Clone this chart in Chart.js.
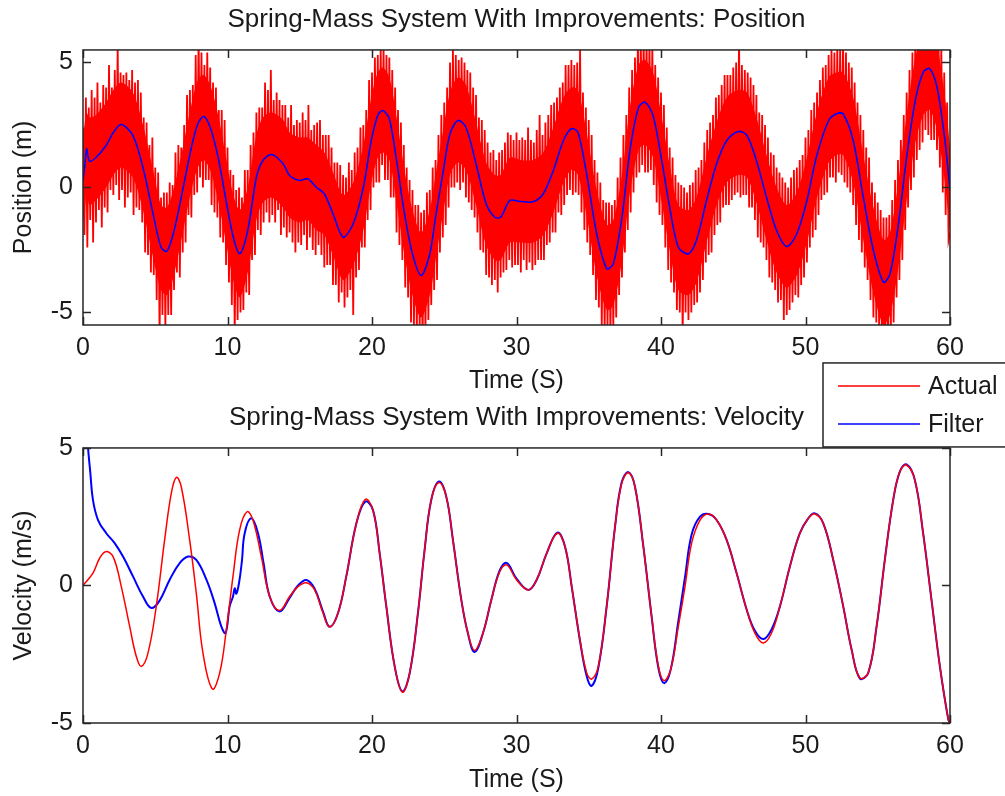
<!DOCTYPE html>
<html>
<head>
<meta charset="utf-8">
<script src="https://cdn.jsdelivr.net/npm/chart.js@4.4.1/dist/chart.umd.min.js"></script>
<style>
  html, body { margin: 0; padding: 0; background: #fff; }
  #wrap { position: relative; width: 1005px; height: 796px; overflow: hidden; }
  #pos-chart { position: absolute; left: 0; top: 0; }
  #vel-chart { position: absolute; left: 0; top: 350px; }
</style>
</head>
<body>
<div id="wrap">
  <canvas id="pos-chart" width="1005" height="398"></canvas>
  <canvas id="vel-chart" width="1005" height="446"></canvas>
</div>
<script>
const timeTicks = [0, 10, 20, 30, 40, 50, 60];
const posTicks = [-5, 0, 5];
const velTicks = [-5, 0, 5];

// position plot: filtered estimate and the solid core of the noisy measurement
const posTime = [
  0, 0.15, 0.25, 0.45, 0.9, 1.6, 2.1, 2.65, 3.45, 4.15,
  4.85, 5.4, 5.8, 6.25, 6.8, 7.5, 7.95, 8.35, 8.8, 9.35,
  9.9, 10.4, 10.85, 11.4, 12.0, 12.45, 13.05, 13.85, 14.3, 15.0,
  15.55, 16.15, 16.7, 17.3, 18.0, 18.7, 19.4, 19.95, 20.4, 20.75,
  21.2, 21.7, 22.25, 22.8, 23.4, 24.0, 24.4, 24.9, 25.4, 25.95,
  26.5, 27.2, 27.9, 28.5, 28.9, 29.55, 30.25, 31.15, 31.85, 32.55,
  33.25, 33.8, 34.25, 34.85, 35.55, 36.25, 36.7, 37.3, 37.85, 38.45,
  38.9, 39.45, 40.05, 40.6, 41.2, 41.9, 42.45, 43.15, 43.85, 44.55,
  45.35, 45.95, 46.6, 47.3, 48.0, 48.7, 49.4, 50.1, 50.75, 51.6,
  52.15, 52.6, 53.3, 54.0, 54.7, 55.4, 55.85, 56.4, 57.0, 57.6,
  58.15, 58.6, 59.1, 59.65, 60
];
const posFilter = [
  0.3, 1.0, 1.55, 1.05, 1.2, 1.68, 2.2, 2.52, 2.08, 0.8,
  -1.05, -2.39, -2.55, -1.85, -0.39, 1.6, 2.55, 2.84, 2.41, 1.21,
  -0.52, -1.99, -2.65, -1.72, 0.41, 1.08, 1.32, 0.95, 0.48, 0.28,
  0.35, 0.01, -0.25, -1.05, -1.99, -1.45, 0.0, 1.88, 2.88, 3.08,
  2.75, 1.08, -1.05, -2.65, -3.52, -2.65, -1.19, 0.55, 2.15, 2.68,
  2.41, 0.95, -0.65, -1.19, -1.19, -0.52, -0.56, -0.57, -0.25, 0.68,
  1.88, 2.35, 2.21, 0.55, -1.85, -3.25, -3.05, -1.19, 1.48, 3.21,
  3.41, 2.88, 1.08, -0.79, -2.39, -2.65, -2.12, -0.52, 0.95, 1.88,
  2.24, 2.08, 1.08, -0.39, -1.72, -2.36, -1.85, -0.52, 1.21, 2.68,
  2.95, 2.95, 1.88, -0.39, -2.52, -3.79, -3.45, -1.59, 1.21, 3.48,
  4.61, 4.75, 4.01, 1.88, -0.12
];
const posCoreHigh = [
  2.0, 2.7, 3.0, 2.8, 2.9, 3.4, 3.9, 4.2, 3.8, 2.5,
  0.7, -0.7, -0.8, -0.1, 1.3, 3.3, 4.3, 4.5, 4.1, 2.9,
  1.2, -0.3, -0.9, 0.0, 2.1, 2.8, 3.0, 2.7, 2.2, 2.0,
  2.0, 1.7, 1.4, 0.6, -0.3, 0.2, 1.7, 3.6, 4.6, 4.8,
  4.4, 2.8, 0.7, -0.9, -1.8, -0.9, 0.5, 2.2, 3.8, 4.4,
  4.1, 2.6, 1.0, 0.5, 0.5, 1.2, 1.1, 1.1, 1.4, 2.4,
  3.6, 4.0, 3.9, 2.2, -0.1, -1.5, -1.3, 0.5, 3.2, 4.9,
  5.1, 4.6, 2.8, 0.9, -0.7, -0.9, -0.4, 1.2, 2.6, 3.6,
  3.9, 3.8, 2.8, 1.3, 0.0, -0.7, -0.2, 1.2, 2.9, 4.4,
  4.6, 4.6, 3.6, 1.3, -0.8, -2.1, -1.8, 0.1, 2.9, 5.2,
  6.3, 6.4, 5.7, 3.6, 1.6
];
const posCoreLow = [
  -1.4, -0.7, -0.2, -0.7, -0.5, 0.0, 0.5, 0.8, 0.4, -0.9,
  -2.8, -4.1, -4.3, -3.6, -2.1, -0.1, 0.8, 1.1, 0.7, -0.5,
  -2.2, -3.7, -4.4, -3.4, -1.3, -0.6, -0.4, -0.8, -1.2, -1.4,
  -1.3, -1.7, -1.9, -2.7, -3.7, -3.1, -1.7, 0.2, 1.2, 1.4,
  1.1, -0.6, -2.7, -4.3, -5.2, -4.3, -2.9, -1.1, 0.5, 1.0,
  0.7, -0.7, -2.3, -2.9, -2.9, -2.2, -2.2, -2.2, -1.9, -1.0,
  0.2, 0.7, 0.5, -1.1, -3.5, -4.9, -4.7, -2.9, -0.2, 1.5,
  1.7, 1.2, -0.6, -2.5, -4.1, -4.3, -3.8, -2.2, -0.7, 0.2,
  0.5, 0.4, -0.6, -2.1, -3.4, -4.0, -3.5, -2.2, -0.5, 1.0,
  1.3, 1.3, 0.2, -2.1, -4.2, -5.5, -5.1, -3.3, -0.5, 1.8,
  2.9, 3.1, 2.3, 0.2, -1.8
];

// noisy measured position, one value every 0.1 s (one row per second)
const posActualStep = 0.1;
const posActual = [
  2.4, -1.9, 3.6, -2.4, 3.2, -1.3, 3.9, -2.2, 3.6, -1.4,
  4.2, -0.9, 3.4, -1.6, 4.1, -0.8, 4.0, -1.0, 4.9, -0.1,
  4.0, -0.3, 4.7, 0.1, 5.7, -0.5, 4.6, -0.1, 4.5, -0.8,
  4.6, -0.4, 4.3, -0.2, 4.7, -1.1, 4.2, -0.8, 4.3, -0.9,
  3.8, -1.4, 2.8, -2.6, 2.6, -2.7, 1.7, -3.4, 2.0, -3.5,
  0.8, -4.5, 0.6, -5.9, -0.4, -5.1, -0.2, -5.6, -0.2, -5.1,
  0.2, -5.1, 0.1, -4.1, 1.4, -3.4, 1.7, -3.6, 1.6, -2.6,
  2.5, -2.2, 3.7, -1.1, 3.9, -1.2, 4.1, -0.3, 5.3, -0.2,
  6.1, 0.4, 5.4, 0.0, 4.9, 0.3, 5.4, 0.3, 4.8, -0.7,
  4.2, -1.0, 4.0, -1.2, 3.1, -2.0, 3.1, -2.2, 2.7, -3.1,
  1.6, -3.8, 0.7, -4.7, 0.5, -5.9, -0.1, -5.3, 0.0, -5.0,
  -0.4, -4.9, 0.7, -4.2, 0.7, -4.3, 1.7, -2.9, 2.2, -2.7,
  3.0, -1.7, 3.2, -1.9, 3.2, -1.4, 4.2, -1.0, 3.9, -1.4,
  4.7, -1.1, 3.5, -1.4, 3.8, -0.9, 3.5, -1.9, 3.3, -1.6,
  3.3, -2.0, 2.8, -1.8, 3.3, -2.2, 2.5, -2.6, 2.7, -2.2,
  2.6, -2.3, 3.0, -1.9, 2.7, -2.5, 3.3, -2.0, 2.3, -2.5,
  2.5, -2.7, 2.6, -2.3, 2.7, -2.7, 2.1, -3.2, 2.1, -3.1,
  2.1, -3.1, 1.6, -3.9, 1.0, -3.9, 1.0, -4.6, 0.9, -4.2,
  0.5, -4.8, 0.4, -4.4, 1.0, -4.1, 0.7, -5.1, 1.4, -3.6,
  1.6, -3.3, 2.4, -2.4, 2.5, -2.4, 3.1, -1.3, 4.3, -0.9,
  4.6, 0.0, 5.2, 0.2, 5.3, 0.2, 5.6, 0.9, 5.6, 0.3,
  5.3, 0.3, 5.2, -0.4, 4.7, -0.4, 4.0, -1.8, 3.1, -2.3,
  2.6, -2.9, 1.7, -4.0, 0.8, -4.4, 0.3, -5.4, -0.1, -5.6,
  -0.7, -5.8, -0.7, -5.7, -1.0, -6.2, -0.9, -5.8, -0.2, -5.3,
  -0.1, -4.7, 0.8, -4.1, 1.1, -3.7, 2.1, -2.6, 2.9, -2.0,
  3.4, -1.5, 4.0, -0.8, 5.0, 0.0, 5.5, 0.0, 5.3, 0.2,
  5.1, -0.1, 5.2, 0.2, 5.0, -0.4, 4.7, -0.6, 4.6, -0.9,
  4.0, -1.2, 3.7, -1.8, 2.8, -2.5, 2.7, -2.6, 2.3, -3.5,
  1.8, -3.6, 1.4, -3.9, 1.5, -3.7, 1.1, -4.2, 1.4, -3.6,
  1.5, -3.4, 1.8, -3.3, 2.2, -2.9, 2.1, -3.2, 1.9, -3.1,
  2.2, -3.1, 1.9, -3.4, 2.0, -2.9, 1.9, -3.3, 2.4, -3.0,
  1.9, -3.3, 1.8, -3.1, 2.3, -2.9, 2.9, -2.9, 2.1, -2.9,
  2.6, -2.3, 2.9, -2.2, 3.3, -1.8, 3.4, -1.8, 3.6, -1.0,
  4.0, -1.1, 4.2, -0.7, 4.9, -0.3, 4.9, -0.1, 5.1, -0.3,
  4.9, -0.2, 5.0, -0.3, 5.6, -1.0, 3.8, -1.7, 3.2, -2.2,
  2.7, -2.7, 2.1, -3.5, 1.1, -4.5, 0.6, -4.8, 0.2, -5.6,
  -0.5, -5.8, -0.6, -5.6, -0.6, -6.0, -0.7, -5.6, -0.5, -5.2,
  0.4, -4.3, 1.2, -3.6, 2.1, -2.6, 2.9, -1.7, 4.0, -1.0,
  4.7, -0.2, 5.2, 0.4, 5.9, 0.6, 6.0, 0.9, 6.0, 0.6,
  5.9, 0.6, 5.8, 0.7, 5.7, 0.1, 4.9, -0.6, 4.4, -1.1,
  3.8, -1.5, 3.3, -2.4, 2.4, -3.3, 1.6, -3.8, 1.2, -4.2,
  0.5, -4.9, 0.2, -5.0, 0.1, -6.0, 0.0, -5.0, -0.2, -5.3,
  0.1, -5.0, 0.2, -4.7, 0.7, -4.6, 0.8, -4.2, 1.1, -3.7,
  1.8, -3.0, 2.3, -2.7, 2.6, -2.6, 2.9, -1.9, 3.6, -1.5,
  3.7, -1.4, 4.1, -0.8, 4.5, -0.7, 4.5, -0.7, 4.5, -0.5,
  4.8, -0.3, 5.0, -0.2, 6.0, -0.4, 4.9, -0.3, 4.7, -0.3,
  4.6, -0.8, 4.4, -0.8, 4.1, -1.3, 3.7, -2.0, 3.0, -2.2,
  2.9, -2.4, 2.5, -2.9, 2.0, -3.6, 1.4, -3.8, 1.3, -4.1,
  0.8, -4.6, 0.6, -4.5, 0.4, -5.3, 0.2, -5.1, 0.0, -4.9,
  0.4, -4.6, 0.7, -4.3, 0.8, -4.4, 1.1, -3.9, 1.3, -3.6,
  2.0, -3.0, 2.3, -2.4, 3.1, -2.0, 3.4, -1.7, 3.8, -1.1,
  4.3, -0.5, 4.8, -0.3, 4.9, -0.2, 5.3, 0.4, 5.5, 0.4,
  5.4, 0.2, 5.6, 0.6, 5.7, 0.5, 5.8, 0.2, 5.4, 0.0,
  5.0, -0.2, 4.8, -0.7, 4.2, -1.5, 3.4, -2.1, 2.9, -2.6,
  2.3, -3.2, 1.6, -3.7, 1.2, -4.5, 0.2, -5.2, -0.2, -5.4,
  -0.6, -5.9, -0.9, -6.1, -1.2, -6.5, -1.2, -6.2, -1.1, -6.0,
  -0.5, -5.4, 0.3, -4.4, 1.1, -3.7, 1.9, -2.9, 2.9, -1.7,
  3.8, -0.8, 4.7, -0.1, 5.4, 0.4, 6.0, 1.1, 6.4, 1.5,
  6.9, 1.8, 7.2, 2.3, 7.4, 2.1, 7.3, 1.9, 7.1, 1.9,
  6.8, 1.5, 6.4, 0.8, 5.6, -0.2, 4.6, -1.1, 3.4, -2.1,
  -1.8
];

// velocity plot
const velActualTime = [
  0, 0.69, 1.15, 1.57, 2.08, 2.65, 3.23, 3.69, 4.04, 4.5,
  5.07, 5.65, 6.11, 6.46, 6.8, 7.38, 7.84, 8.3, 8.95, 9.46,
  9.92, 10.38, 10.84, 11.35, 11.76, 12.34, 12.92, 13.6, 14.3, 14.88,
  15.46, 16.03, 16.61, 17.07, 17.65, 18.22, 18.92, 19.54, 20.07, 20.53,
  20.99, 21.57, 22.1, 22.61, 23.18, 23.64, 24.1, 24.64, 25.14, 25.6,
  26.18, 26.64, 27.1, 27.68, 28.26, 28.84, 29.32, 30.0, 30.82, 31.4,
  32.09, 32.83, 33.36, 33.82, 34.39, 34.86, 35.2, 35.66, 36.24, 36.82,
  37.28, 37.74, 38.2, 38.78, 39.35, 39.82, 40.21, 40.67, 41.2, 41.66,
  42.12, 42.7, 43.28, 43.85, 44.54, 45.23, 45.93, 46.5, 47.08, 47.65,
  48.23, 48.92, 49.61, 50.19, 50.65, 51.23, 51.92, 52.61, 53.19, 53.76,
  54.34, 54.92, 55.49, 56.07, 56.53, 56.99, 57.57, 58.14, 58.72, 59.3,
  59.88, 60
];
const velActual = [
  0, 0.45, 0.99, 1.23, 1.05, -0.04, -1.49, -2.58, -2.94, -2.45,
  -0.76, 1.66, 3.35, 3.93, 3.59, 1.66, -0.28, -2.45, -3.76, -3.18,
  -1.61, 0.33, 2.02, 2.68, 2.38, 1.05, -0.4, -0.91, -0.4, -0.04,
  0.1, -0.16, -1.0, -1.51, -1.0, 0.33, 2.26, 3.13, 2.74, 1.17,
  -0.76, -2.94, -3.88, -3.18, -1.0, 1.29, 3.11, 3.74, 3.23, 1.66,
  -0.52, -1.73, -2.36, -1.73, -0.52, 0.5, 0.75, 0.21, -0.16, 0.21,
  1.17, 1.9, 1.41, -0.04, -1.97, -3.18, -3.4, -2.94, -0.76, 2.14,
  3.71, 4.1, 3.59, 1.41, -1.12, -2.94, -3.46, -3.06, -1.49, -0.04,
  1.54, 2.38, 2.6, 2.38, 1.66, 0.45, -0.88, -1.73, -2.09, -1.73,
  -0.76, 0.69, 1.9, 2.44, 2.6, 2.26, 0.93, -0.76, -2.33, -3.36,
  -3.18, -1.49, 0.93, 3.11, 4.14, 4.38, 3.83, 1.9, -0.52, -2.94,
  -4.87, -5
];
const velFilterTime = [
  0.25, 0.35, 0.5, 0.69, 1.04, 1.61, 2.19, 2.77, 3.46, 4.15,
  4.73, 5.3, 6.0, 6.69, 7.27, 7.84, 8.54, 9.11, 9.57, 9.87,
  10.15, 10.38, 10.5, 10.61, 10.8, 11.0, 11.19, 11.65, 12.11, 12.5,
  12.92, 13.6, 14.3, 14.88, 15.46, 16.03, 16.61, 17.07, 17.65, 18.22,
  18.92, 19.54, 20.07, 20.53, 20.99, 21.57, 22.1, 22.61, 23.18, 23.64,
  24.1, 24.64, 25.14, 25.6, 26.18, 26.64, 27.1, 27.68, 28.26, 28.84,
  29.32, 30.0, 30.82, 31.4, 32.09, 32.83, 33.36, 33.82, 34.39, 34.86,
  35.2, 35.66, 36.24, 36.82, 37.28, 37.74, 38.2, 38.78, 39.35, 39.82,
  40.21, 40.67, 41.2, 41.66, 42.12, 42.7, 43.28, 43.85, 44.54, 45.23,
  45.93, 46.5, 47.08, 47.65, 48.23, 48.92, 49.61, 50.19, 50.65, 51.23,
  51.92, 52.61, 53.19, 53.76, 54.34, 54.92, 55.49, 56.07, 56.53, 56.99,
  57.57, 58.14, 58.72, 59.3, 59.88, 60
];
const velFilter = [
  6.0, 5.0, 4.14, 3.1, 2.38, 1.9, 1.54, 1.05, 0.33, -0.4,
  -0.82, -0.55, 0.21, 0.81, 1.05, 0.93, 0.21, -0.64, -1.49, -1.73,
  -0.76, -0.4, -0.1, -0.3, 0.1, 0.9, 1.9, 2.44, 1.9, 0.8,
  -0.4, -0.95, -0.45, 0.0, 0.2, -0.12, -0.95, -1.5, -1.0, 0.33,
  2.26, 3.05, 2.74, 1.17, -0.76, -2.94, -3.85, -3.18, -1.0, 1.29,
  3.11, 3.78, 3.23, 1.66, -0.52, -1.75, -2.42, -1.73, -0.52, 0.55,
  0.82, 0.25, -0.16, 0.21, 1.17, 1.92, 1.41, -0.04, -2.0, -3.3,
  -3.65, -3.0, -0.76, 2.14, 3.75, 4.12, 3.59, 1.41, -1.12, -3.0,
  -3.55, -3.06, -1.3, 0.3, 1.85, 2.5, 2.6, 2.38, 1.66, 0.45,
  -0.88, -1.65, -1.95, -1.6, -0.76, 0.69, 1.9, 2.44, 2.62, 2.26,
  0.93, -0.76, -2.33, -3.38, -3.18, -1.49, 0.93, 3.11, 4.14, 4.4,
  3.83, 1.9, -0.52, -2.94, -4.87, -5.0
];

const FONT = "'Liberation Sans', Arial, Helvetica, sans-serif";
const TEXT = "#1a1a1a";
const RED = "#ff0000";
const BLUE = "#0000ff";

function points(xs, ys) {
  return ys.map((y, i) => ({ x: xs[i], y }));
}

// box round the plot with inward ticks on all four sides, like MATLAB axes
const boxAxes = {
  id: "boxAxes",
  afterDatasetsDraw(chart) {
    const { ctx, chartArea: a, scales } = chart;
    const len = 8;
    ctx.save();
    ctx.strokeStyle = "#262626";
    ctx.lineWidth = 1.5;
    ctx.beginPath();
    scales.x.ticks.forEach((t) => {
      const px = Math.round(scales.x.getPixelForValue(t.value)) + 0.5;
      ctx.moveTo(px, a.bottom);
      ctx.lineTo(px, a.bottom - len);
      ctx.moveTo(px, a.top);
      ctx.lineTo(px, a.top + len);
    });
    scales.y.ticks.forEach((t) => {
      const py = Math.round(scales.y.getPixelForValue(t.value)) + 0.5;
      ctx.moveTo(a.left, py);
      ctx.lineTo(a.left + len, py);
      ctx.moveTo(a.right, py);
      ctx.lineTo(a.right - len, py);
    });
    ctx.stroke();
    ctx.strokeRect(a.left, a.top, a.right - a.left, a.bottom - a.top);
    ctx.restore();
  },
};

// legend box sitting on top of the velocity axes, right aligned, spilling off the page
const boxLegend = {
  id: "boxLegend",
  afterDraw(chart) {
    const { ctx, chartArea: a } = chart;
    const left = a.right - 127;
    const top = a.top - 85;
    const bottom = a.top - 1;
    ctx.save();
    ctx.fillStyle = "#fff";
    ctx.fillRect(left, top, chart.width - left + 10, bottom - top);
    ctx.strokeStyle = "#262626";
    ctx.lineWidth = 1.5;
    ctx.strokeRect(left, top, chart.width - left + 10, bottom - top);
    ctx.font = `25px ${FONT}`;
    ctx.textBaseline = "middle";
    ctx.textAlign = "left";
    chart.data.datasets.forEach((ds, i) => {
      const y = top + 23 + i * 38;
      ctx.strokeStyle = ds.borderColor;
      ctx.lineWidth = 1.5;
      ctx.beginPath();
      ctx.moveTo(left + 15, y);
      ctx.lineTo(left + 97, y);
      ctx.stroke();
      ctx.fillStyle = TEXT;
      ctx.fillText(ds.label, left + 105, y + 1);
    });
    ctx.restore();
  },
};

function axisFont() {
  return { family: FONT, size: 25 };
}

function makeScales(yMin, yMax, yTickValues, yTitle, xTitleBottom) {
  return {
    x: {
      type: "linear",
      min: 0,
      max: 60,
      afterBuildTicks: (s) => { s.ticks = timeTicks.map((v) => ({ value: v })); },
      afterFit: (s) => { s.height = 73; },
      grid: { display: false, drawTicks: false },
      border: { display: false },
      ticks: { padding: 8, color: TEXT, font: axisFont(), maxRotation: 0, autoSkip: false },
      title: { display: true, text: "Time (S)", color: TEXT, font: axisFont(), padding: { top: 0, bottom: xTitleBottom } },
    },
    y: {
      type: "linear",
      min: yMin,
      max: yMax,
      afterBuildTicks: (s) => { s.ticks = yTickValues.map((v) => ({ value: v })); },
      afterFit: (s) => { s.width = 83; },
      grid: { display: false, drawTicks: false },
      border: { display: false },
      ticks: { padding: 10, color: TEXT, font: axisFont() },
      title: { display: true, text: yTitle, color: TEXT, font: axisFont(), padding: { top: 9, bottom: 0 } },
    },
  };
}

function baseOptions(title, titlePadTop, scales) {
  return {
    responsive: false,
    animation: false,
    devicePixelRatio: 1,
    events: [],
    layout: { padding: { left: 0, right: 55, top: 0, bottom: 0 } },
    elements: { point: { radius: 0 } },
    plugins: {
      legend: { display: false },
      tooltip: { enabled: false },
      title: {
        display: true,
        text: title,
        fullSize: false,
        color: TEXT,
        font: { family: FONT, size: 26, weight: "normal", lineHeight: 1.15 },
        padding: { top: titlePadTop, bottom: 15 },
      },
    },
    scales,
  };
}

new Chart(document.getElementById("pos-chart"), {
  type: "line",
  data: {
    datasets: [
      {
        label: "Filter",
        data: points(posTime, posFilter),
        borderColor: BLUE,
        borderWidth: 1.6,
        tension: 0.3,
      },
      {
        label: "Actual",
        data: posActual.map((y, i) => ({ x: i * posActualStep, y })),
        borderColor: RED,
        borderWidth: 1.8,
        tension: 0,
      },
      {
        label: "Actual core",
        data: points(posTime, posCoreHigh),
        borderWidth: 0,
        backgroundColor: RED,
        fill: "+1",
        tension: 0.3,
      },
      {
        label: "Actual core low",
        data: points(posTime, posCoreLow),
        borderWidth: 0,
        fill: false,
        tension: 0.3,
      },
    ],
  },
  options: baseOptions(
    "Spring-Mass System With Improvements: Position",
    5.05,
    makeScales(-5.5, 5.5, posTicks, "Position (m)", 2)
  ),
  plugins: [boxAxes],
});

new Chart(document.getElementById("vel-chart"), {
  type: "line",
  data: {
    datasets: [
      {
        label: "Actual",
        data: points(velActualTime, velActual),
        borderColor: RED,
        borderWidth: 1.5,
        tension: 0.4,
      },
      {
        label: "Filter",
        data: points(velFilterTime, velFilter),
        borderColor: BLUE,
        borderWidth: 2,
        tension: 0.4,
      },
    ],
  },
  options: baseOptions(
    "Spring-Mass System With Improvements: Velocity",
    53.05,
    makeScales(-5, 5, velTicks, "Velocity (m/s)", 1)
  ),
  plugins: [boxAxes, boxLegend],
});
</script>
</body>
</html>
